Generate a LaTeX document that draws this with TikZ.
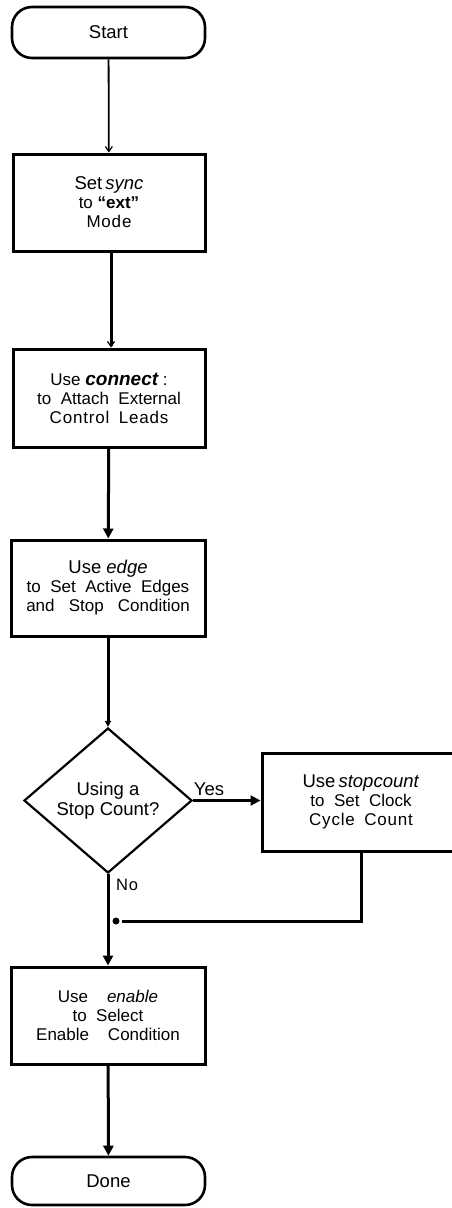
\documentclass[tikz,border=0pt]{standalone}
\usepackage{fontspec}
\setmainfont{Liberation Sans}
\usetikzlibrary{shapes.geometric,arrows.meta}
\newcommand{\ls}{\kern0.8pt}
\begin{document}
\begin{tikzpicture}[x=1pt,y=-1pt,
  box/.style={draw,line width=3pt,rectangle,inner sep=0pt,align=center,font=\fontsize{17}{19}\selectfont},
  term/.style={draw,line width=2.6pt,rectangle,rounded corners=20pt,inner sep=0pt,font=\fontsize{18.5}{20}\selectfont},
  conn/.style={line width=3pt},
  thinconn/.style={line width=1.8pt},
  filltip/.style={-{Triangle[length=10pt,width=10pt]}},
  opentip/.style={-{Straight Barb[length=5pt,width=7pt,line width=1.2pt]}},
  lbl/.style={font=\fontsize{18.5}{20}\selectfont,inner sep=0pt},
  head/.style={font=\fontsize{18.5}{20}\selectfont}]
\useasboundingbox (0,0) rectangle (452,1208);

\node[term,minimum width=193pt,minimum height=51pt] (start) at (108.5,32.5) {Start};
\node[box,minimum width=192pt,minimum height=97pt] (b1) at (109,202.5)
  {{\fontsize{18.5}{20}\selectfont Set\,\textit{sync}}\\to \textbf{“ext”}\\M\ls o\ls d\ls e};
\node[box,minimum width=192pt,minimum height=98pt] (b2) at (109,398)
  {Use {\fontsize{19}{20}\selectfont\bfseries\itshape connect} :\\to\ \ Attach\ \ External\\C\ls o\ls n\ls t\ls r\ls o\ls l\ \ L\ls e\ls a\ls d\ls s};
\node[box,minimum width=194pt,minimum height=96pt] (b3) at (108,588)
  {{\fontsize{18.5}{20}\selectfont Use \textit{edge}}\\to\ \ Set\ \ Active\ \ Edges\\and\ \ \ Stop\ \ \ Condition};
\node[draw,line width=2.2pt,diamond,minimum width=168pt,minimum height=145pt,inner sep=0pt,aspect=1.16,align=center,head] (dia) at (108,800.5)
  {Using a\\Stop Count?};
\node[box,minimum width=198pt,minimum height=98pt] (b4) at (361,802)
  {{\fontsize{18.5}{20}\selectfont Use\,\textit{stopcount}}\\to\ \ Set\ \ Clock\\C\ls y\ls c\ls l\ls e\ \ C\ls o\ls u\ls n\ls t};
\node[box,minimum width=194pt,minimum height=97pt] (b5) at (108,1015.5)
  {Use\ \ \ \ \textit{enable}\\to\ \ Select\\Enable\ \ \ \ Condition};
\node[term,minimum width=193pt,minimum height=48pt] (done) at (108.5,1181) {Done};

\node[lbl] (yes) at (209,789) {Yes};
\node[lbl,font=\fontsize{16.5}{18}\selectfont] (no) at (127,885) {N\ls o};
\coordinate (j) at (116,921);

\draw[thinconn,opentip] (start) -- (b1);
\draw[conn,opentip] (b1.south -| 111,0) -- (b2.north -| 111,0);
\draw[conn,filltip] (b2) -- (b3);
\draw[conn,-{Triangle[length=6pt,width=6pt]}] (b3) -- (dia);
\draw[line width=2.2pt,-{Triangle[length=10pt,width=10pt]}] (dia.east) -- (dia.east -| b4.west);
\draw[conn,filltip] (dia) -- (b5);
\draw[conn,filltip] (b5) -- (done);
\draw[conn] (b4.south) |- ([xshift=6pt]j);
\fill (j) circle (3.5pt);
\end{tikzpicture}
\end{document}
